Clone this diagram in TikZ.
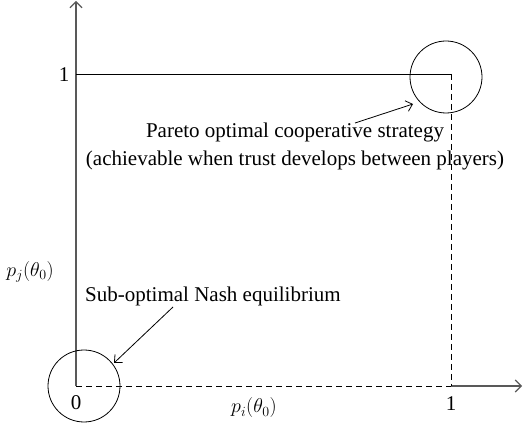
\documentclass[tikz,border=0pt]{standalone}
\usepackage{fix-cm}
\usepackage{fontspec}
\setmainfont{Liberation Serif}
\usetikzlibrary{arrows.meta}
\begin{document}
\begin{tikzpicture}[x=1pt,y=-1pt,
  axis/.style={draw=black!65,line width=1.1pt,-{Straight Barb[length=6pt,width=12pt]}},
  thin/.style={draw=black,line width=0.8pt},
  pointer/.style={draw=black,line width=0.8pt,-{Straight Barb[length=6pt,width=11pt]}},
  lbl/.style={font=\fontsize{21}{28}\selectfont,inner sep=0pt},
  mlbl/.style={font=\fontsize{20}{24}\selectfont,inner sep=0pt},
  mark circle/.style={draw=black,line width=0.8pt,circle,minimum size=72pt,inner sep=0pt}]
\useasboundingbox (0,0) rectangle (523,425);
\coordinate (O) at (76,386);
\coordinate (P) at (451,74);
\coordinate (Y1) at (76,74);
\coordinate (X1) at (451,386);
\coordinate (Ytop) at (76,1);
\coordinate (Xend) at (522,386);
% axes
\draw[axis] (O) -- (Ytop);
\draw[axis] (X1) -- (Xend);
\draw[thin,dash pattern=on 6pt off 4pt] (O) -- (X1);
\draw[thin,dash pattern=on 6pt off 4pt] (P) -- (X1);
\draw[thin] (Y1) -- (P);
% circles
\node[mark circle] (c1) at (446,77) {};
\node[mark circle] (c0) at (84,386) {};
% labels
\node[lbl] (one y) at (64,75) {1};
\node[lbl] (zero) at (76,403) {0};
\node[lbl] (one x) at (451,404) {1};
\node[mlbl] (pi) at (254,408) {$p_i(\theta_0)$};
\node[mlbl] (pj) at (30,272) {$p_j(\theta_0)$};
\node[lbl,anchor=west] (nash) at (85,296) {Sub-optimal Nash equilibrium};
\node[lbl,align=center] (pareto) at (295,146) {Pareto optimal cooperative strategy\\(achievable when trust develops between players)};
\coordinate (a1s) at (355,123);
\coordinate (a1e) at (413,104);
\coordinate (a0s) at (173,307);
\coordinate (a0e) at (114,363);
\draw[pointer] (a1s) -- (a1e);
\draw[pointer] (a0s) -- (a0e);
\end{tikzpicture}
\end{document}
